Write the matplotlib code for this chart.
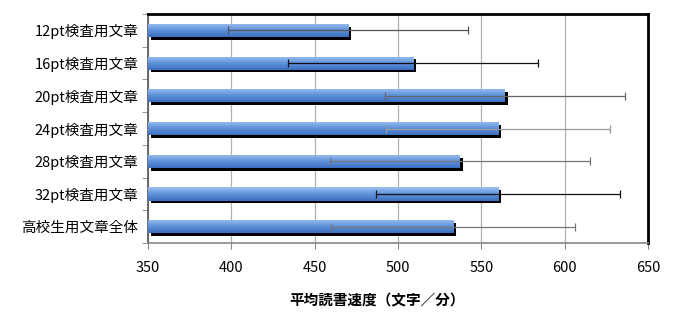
import numpy as np
import matplotlib.pyplot as plt
import matplotlib.patheffects as pe
from matplotlib.colors import LinearSegmentedColormap

plt.rcParams['font.family'] = ['Noto Sans CJK JP', 'DejaVu Sans']

labels = ['12pt検査用文章', '16pt検査用文章', '20pt検査用文章', '24pt検査用文章',
          '28pt検査用文章', '32pt検査用文章', '高校生用文章全体']
means = [470, 509, 564, 560, 537, 560, 533]
sds = [72, 75, 72, 67, 78, 73, 73]
err_colors = ['#555555', '#111111', '#666666', '#999999', '#777777', '#111111', '#777777']

fig = plt.figure(figsize=(6.73, 3.19), dpi=100)
ax = fig.add_axes([0.22, 0.238, 0.743, 0.718])

n = len(labels)
ypos = np.arange(n)[::-1]
h = 0.4
base = 350

cmap = LinearSegmentedColormap.from_list('bl', ['#3b70c0', '#5f92db', '#9cc0f0'])
grad = np.linspace(0, 1, 50).reshape(-1, 1)

bars = ax.barh(ypos, np.array(means) - base, left=base, height=h,
               facecolor='none', edgecolor='none', zorder=3)
for b, y, m in zip(bars, ypos, means):
    b.set_path_effects([pe.SimplePatchShadow(offset=(2, -2), shadow_rgbFace='black', alpha=1.0)])
    im = ax.imshow(grad, extent=[base, m, y - h / 2, y + h / 2], origin='lower',
                   aspect='auto', cmap=cmap, zorder=4)
    im.set_clip_path(b)

for y, m, s, c in zip(ypos, means, sds, err_colors):
    ax.errorbar(m, y, xerr=s, fmt='none', ecolor=c, elinewidth=0.9,
                capsize=3, capthick=0.9, zorder=5)

ax.set_xlim(350, 650)
ax.set_ylim(-0.5, n - 0.5)
ax.set_xticks(np.arange(350, 651, 50))
ax.set_yticks(ypos)
ax.set_yticklabels(labels, fontsize=10.5)
ax.set_yticks(np.arange(-0.5, n, 1), minor=True)
ax.tick_params(axis='y', which='major', length=0, pad=7)
ax.tick_params(axis='y', which='minor', length=4, color='#888888')
ax.tick_params(axis='x', length=4, color='#888888', labelsize=10.5, pad=9)

ax.grid(axis='x', color='#b0b0b0', linewidth=0.9, zorder=0)
ax.set_axisbelow(True)

ax.spines['top'].set_linewidth(2)
ax.spines['right'].set_linewidth(2)
ax.spines['left'].set_color('#555555')
ax.spines['left'].set_linewidth(1.2)
ax.spines['bottom'].set_color('#888888')
ax.spines['bottom'].set_linewidth(1.2)

ax.set_xlabel('平均読書速度（文字／分）', fontsize=10.5, fontweight='bold')
ax.xaxis.set_label_coords(0.458, -0.215)

fig.savefig('out.png', dpi=100)
